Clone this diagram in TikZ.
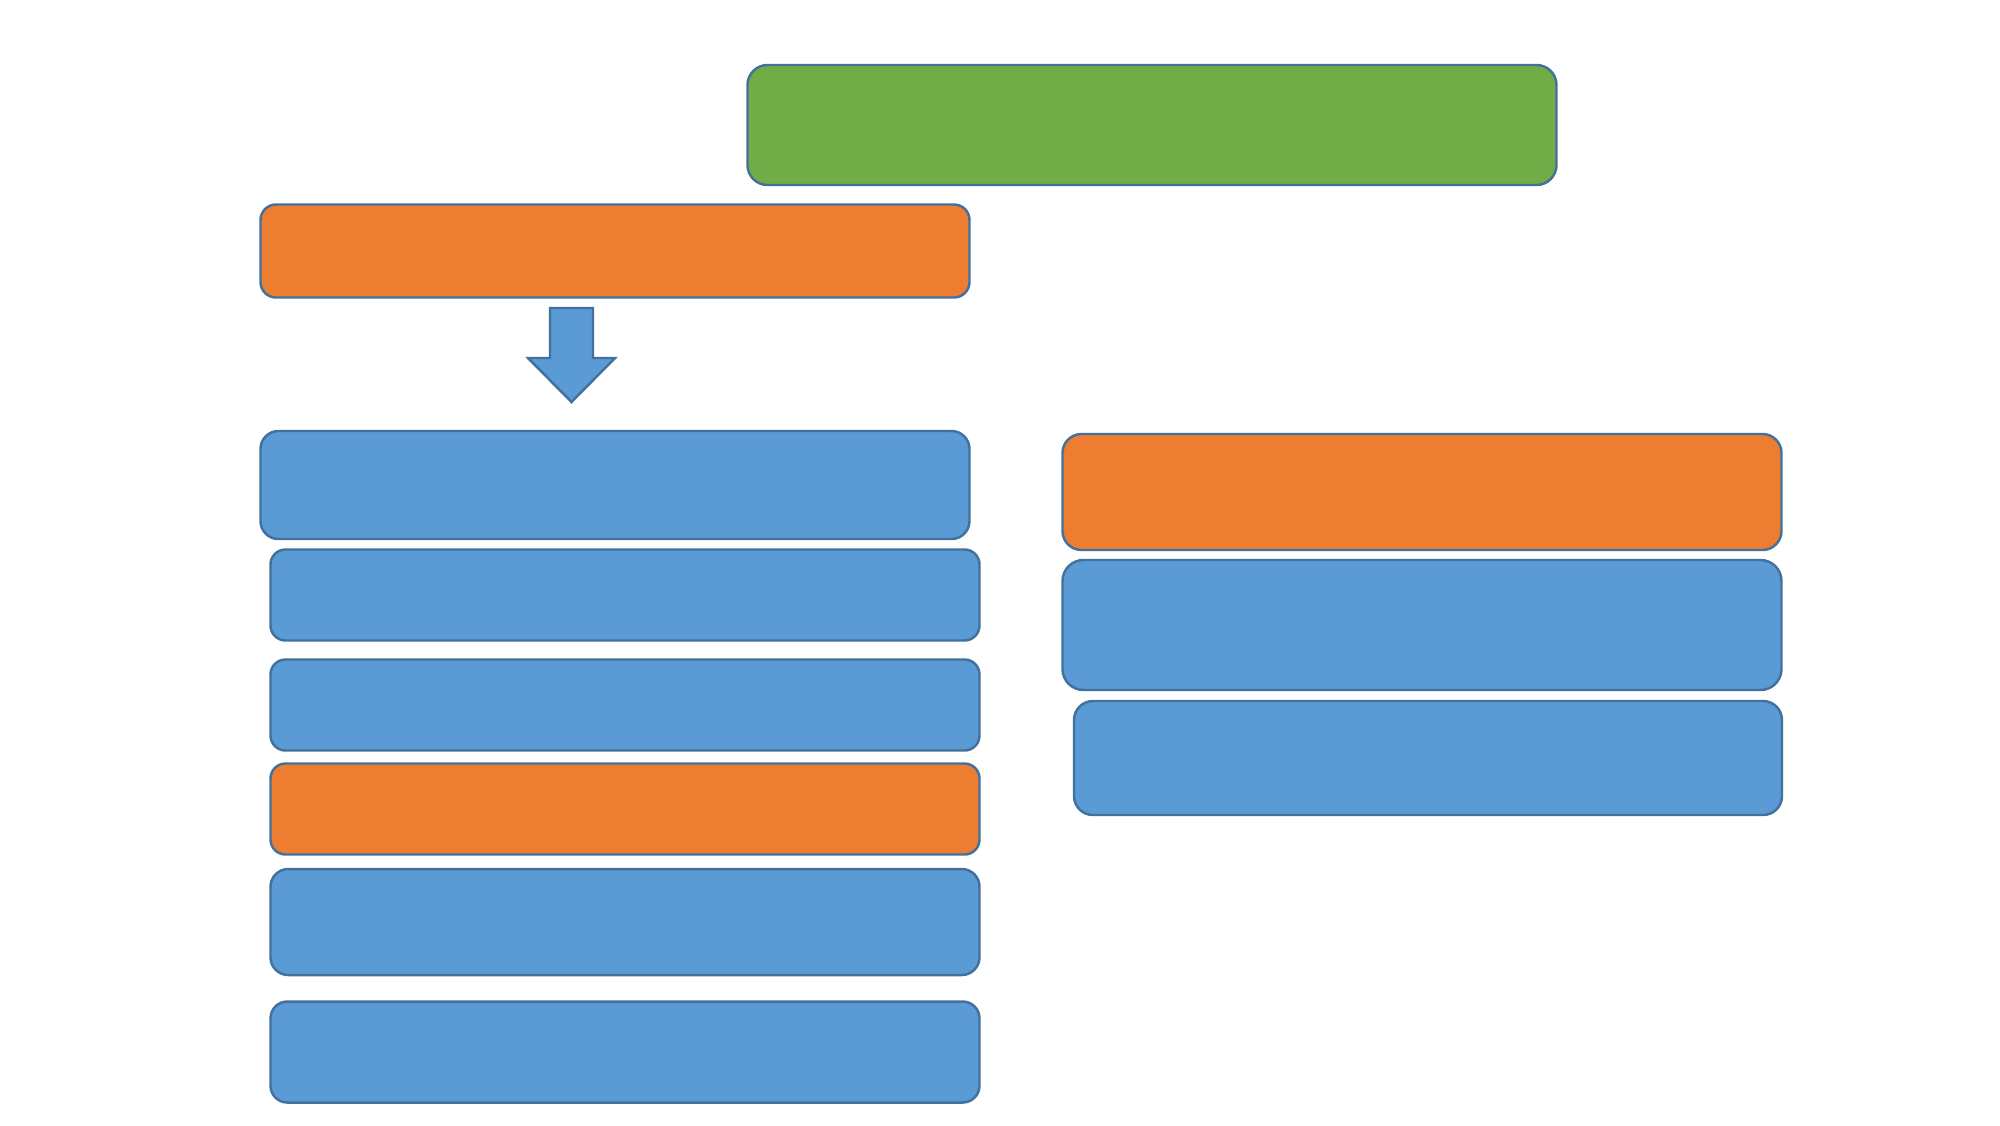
\documentclass[tikz,border=0pt]{standalone}
\usepackage{tikz}
\usetikzlibrary{positioning}

\definecolor{leafgreen}{HTML}{70AD47}
\definecolor{barorange}{HTML}{ED7D31}
\definecolor{barblue}{HTML}{5B9BD5}
\definecolor{edgeblue}{HTML}{41719C}

\tikzset{
	bar/.style={draw=edgeblue,line width=0.7pt,inner sep=0pt,rounded corners=#1},
	bar/.default=0.15cm
}

\begin{document}
\begin{tikzpicture}
		\useasboundingbox (0,0) rectangle (20,-11.25);
		
		% top row
		\node[bar=0.2cm,fill=leafgreen,minimum width=8.09cm,minimum height=1.2cm] (head) at (11.52,-1.25) {};
		\node[bar=0.155cm,fill=barorange,minimum width=7.09cm,minimum height=0.93cm] (start) at (6.15,-2.51) {};
		
		% block arrow
		\path[draw=edgeblue,line width=0.7pt,fill=barblue] (5.50,-3.08) -- (5.93,-3.08) -- (5.93,-3.58) -- (6.15,-3.58) -- (5.715,-4.02) -- (5.28,-3.58) -- (5.50,-3.58) -- cycle;
		
		% left column
		\node[bar=0.18cm,fill=barblue,minimum width=7.09cm,minimum height=1.08cm] (l1) at (6.15,-4.85) {};
		\node[bar,fill=barblue,minimum width=7.09cm,minimum height=0.91cm] (l2) at (6.25,-5.95) {};
		\node[bar,fill=barblue,minimum width=7.09cm,minimum height=0.91cm] (l3) at (6.25,-7.05) {};
		\node[bar,fill=barorange,minimum width=7.09cm,minimum height=0.91cm] (l4) at (6.25,-8.09) {};
		\node[bar=0.177cm,fill=barblue,minimum width=7.09cm,minimum height=1.06cm] (l5) at (6.25,-9.22) {};
		\node[bar=0.168cm,fill=barblue,minimum width=7.09cm,minimum height=1.01cm] (l6) at (6.25,-10.52) {};
		
		% right column
		\node[bar=0.19cm,fill=barorange,minimum width=7.19cm,minimum height=1.16cm] (r1) at (14.22,-4.92) {};
		\node[bar=0.21cm,fill=barblue,minimum width=7.19cm,minimum height=1.3cm] (r2) at (14.22,-6.25) {};
		\node[bar=0.19cm,fill=barblue,minimum width=7.08cm,minimum height=1.14cm] (r3) at (14.28,-7.58) {};
	\end{tikzpicture}
\end{document}
